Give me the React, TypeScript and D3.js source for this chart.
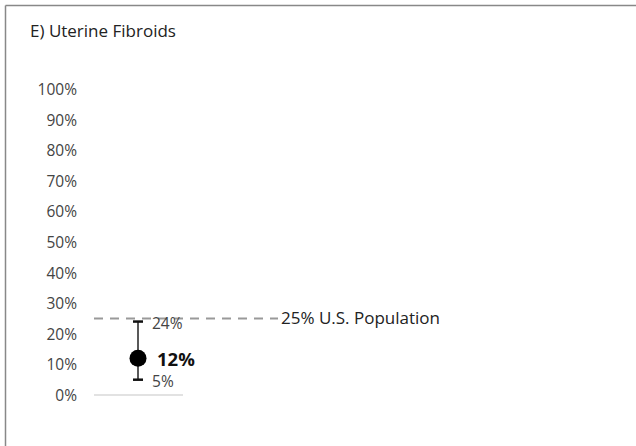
import React from "react";
import * as d3 from "d3";

const yTicks = [0, 10, 20, 30, 40, 50, 60, 70, 80, 90, 100];
const pointValue = [12];
const lowerCI = [5];
const upperCI = [24];
const populationValue = 25;
const titleText = "E) Uterine Fibroids";
const populationLabel = "25% U.S. Population";

const W = 636;
const H = 446;
const FONT = "'Open Sans', sans-serif";

export default function App() {
  const y = d3.scaleLinear().domain([0, 100]).range([395, 89]);
  const x = d3.scaleLinear().domain([0, 1]).range([94, 183]);
  const cx = x(0.5) - 0.5;
  return (
    <svg width={W} height={H} style={{ position: "absolute", left: 0, top: 0 }}>
      <rect x={0} y={0} width={W} height={H} fill="#fff" />
      <line x1={5.5} y1={5.5} x2={W} y2={5.5} stroke="#888" strokeWidth={1.5} />
      <line x1={5.5} y1={5.5} x2={5.5} y2={H} stroke="#888" strokeWidth={1.5} />
      <text x={30} y={37} fontFamily={FONT} fontSize={17} fill="#222">{titleText}</text>
      {yTicks.map((t) => (
        <text key={t} x={77} y={y(t) + 0.5} dy="0.35em" textAnchor="end" fontFamily={FONT} fontSize={15.5} fill="#444">
          {t}%
        </text>
      ))}
      <line x1={x(0)} x2={x(1)} y1={y(0)} y2={y(0)} stroke="#d9d9d9" strokeWidth={1.5} />
      <line x1={x(0)} x2={278} y1={y(populationValue)} y2={y(populationValue)} stroke="#999" strokeWidth={2} strokeDasharray="9,7" />
      <text x={281} y={y(populationValue)} dy="0.35em" fontFamily={FONT} fontSize={17} fill="#222">{populationLabel}</text>
      {pointValue.map((v, i) => (
        <g key={i}>
          <line x1={cx} x2={cx} y1={y(upperCI[i])} y2={y(lowerCI[i])} stroke="#222" strokeWidth={1.5} />
          <line x1={cx - 5} x2={cx + 5} y1={y(upperCI[i])} y2={y(upperCI[i])} stroke="#111" strokeWidth={2.5} />
          <line x1={cx - 5} x2={cx + 5} y1={y(lowerCI[i])} y2={y(lowerCI[i])} stroke="#111" strokeWidth={2.5} />
          <circle cx={cx} cy={y(v)} r={8.5} fill="#000" />
          <text x={cx + 19} y={y(v) + 1} dy="0.35em" fontFamily={FONT} fontSize={18.5} fontWeight="bold" fill="#111">{v}%</text>
          <text x={cx + 14} y={y(upperCI[i]) + 2} dy="0.35em" fontFamily={FONT} fontSize={15.5} fill="#444">{upperCI[i]}%</text>
          <text x={cx + 14} y={y(lowerCI[i]) + 2} dy="0.35em" fontFamily={FONT} fontSize={15.5} fill="#444">{lowerCI[i]}%</text>
        </g>
      ))}
    </svg>
  );
}
